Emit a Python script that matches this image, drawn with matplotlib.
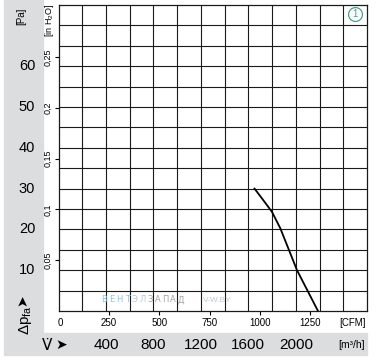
import numpy as np
import matplotlib.pyplot as plt
import matplotlib.transforms as mtransforms
from matplotlib.patches import Rectangle

plt.rcParams['font.family'] = ['Liberation Sans Narrow', 'Liberation Sans', 'DejaVu Sans']

# curve: flow in m3/h, static pressure in Pa
flow_m3h = [1652, 1725, 1799, 1869, 2010, 2187]
pressure_pa = [30.0, 27.2, 24.3, 20.3, 10.0, 0.0]

pa_labels = [10, 20, 30, 40, 50, 60]
m3h_labels = [400, 800, 1200, 1600, 2000]
cfm_ticks = [250, 500, 750, 1000, 1250]
inh2o_ticks = [0.05, 0.1, 0.15, 0.2, 0.25]

W, H = 377, 362
fig = plt.figure(figsize=(W/100, H/100), dpi=100)
grey = '#dcdddf'
# grey frame strips
fig.patches.append(Rectangle((4/W, 1-333/H), 39/W, 333/H, transform=fig.transFigure, color=grey, zorder=-5))
fig.patches.append(Rectangle((4/W, 1-355/H), 363/W, 22/H, transform=fig.transFigure, color=grey, zorder=-5))

ax = fig.add_axes([58.5/W, 1-311/H, (367-58.5)/W, (311-5)/H])
ax.set_xlim(0, 2600)
ax.set_ylim(0, 75)
ax.vlines(np.arange(200, 2600, 200), 0, 75, color='#1a1a1a', lw=0.8)
ax.hlines(np.arange(5, 75, 5), 0, 2600, color='#1a1a1a', lw=0.8)
for s in ax.spines.values():
    s.set_color('#1a1a1a')
    s.set_linewidth(0.9)
ax.set_xticks([])
ax.set_yticks([])

ax.plot(flow_m3h, pressure_pa, color='k', lw=1.3, zorder=5)

# CFM axis
sx = ax.secondary_xaxis('bottom', functions=(lambda v: v/1.699, lambda v: v*1.699))
sx.set_xticks(cfm_ticks)
sx.set_xticklabels([str(v) for v in cfm_ticks])
sx.tick_params(length=3, width=0.8, labelsize=7, pad=2)
sx.spines['bottom'].set_visible(False)
fig.text(60/W, 1-323/H, '0', fontsize=7, ha='center', va='center')
fig.text(352/W, 1-323/H, '[CFM]', fontsize=7, ha='center', va='center')

# in H2O axis
sy = ax.secondary_yaxis('left', functions=(lambda v: v/249.09, lambda v: v*249.09))
sy.set_yticks(inh2o_ticks)
sy.set_yticklabels([('%g' % v).replace('.', ',') for v in inh2o_ticks], rotation=90, va='center')
sy.tick_params(length=3, width=0.8, labelsize=6.5, pad=1.5)
sy.spines['left'].set_visible(False)
fig.text(49/W, 1-20/H, '[in H$_\\mathregular{2}$O]', fontsize=6.5, rotation=90, ha='center', va='center')

# Pa labels in grey strip
tr_y = mtransforms.blended_transform_factory(fig.transFigure, ax.transData)
for v in pa_labels:
    fig.text(27/W, v, str(v), transform=tr_y, fontsize=10.5, ha='center', va='center')
fig.text(21/W, 1-16/H, '[Pa]', fontsize=7, rotation=90, ha='center', va='center')
fig.text(22/W, 1-300/H, '\u27a4', fontsize=10, rotation=90, ha='center', va='center',
         family=['DejaVu Sans'])
fig.text(25/W, 1-320/H, '\u0394p$_\\mathregular{fa}$', fontsize=11, rotation=90, ha='center', va='center')

# m3/h labels in bottom strip
tr_x = mtransforms.blended_transform_factory(ax.transData, fig.transFigure)
for v in m3h_labels:
    fig.text(v, 1-345/H, str(v), transform=tr_x, fontsize=11, ha='center', va='center')
fig.text(352/W, 1-345/H, '[m\u00b3/h]', fontsize=7.5, ha='center', va='center')
fig.text(47/W, 1-345/H, 'V\u0307', fontsize=11, ha='center', va='center', family=['DejaVu Sans'])
fig.text(61/W, 1-345/H, '\u27a4', fontsize=10, ha='center', va='center', family=['DejaVu Sans'])

# watermark
letters = 'ВЕНТЭЛЗАПАД'
colors = ['#8cc6e6'] * 4 + ['#b7cad8'] * 2 + ['#a3a3a3'] * 5
for i, (ch, c) in enumerate(zip(letters, colors)):
    fig.text((104 + i*7.7)/W, 1-300/H, ch, fontsize=6, color=c, ha='center', va='center',
             family=['DejaVu Sans'])
fig.text(217/W, 1-300/H, 'V-W.BY', fontsize=6, color='#b7cad8', ha='center', va='center')

# curve number badge
ax.plot([0.96], [0.971], transform=ax.transAxes, marker='o', ms=10, mfc='white',
        mec='#4a9e94', mew=0.9, clip_on=False, zorder=6)
ax.text(0.96, 0.971, '1', transform=ax.transAxes, fontsize=7, color='#4a9e94',
        ha='center', va='center', zorder=7)

fig.savefig('out.png', dpi=100)
